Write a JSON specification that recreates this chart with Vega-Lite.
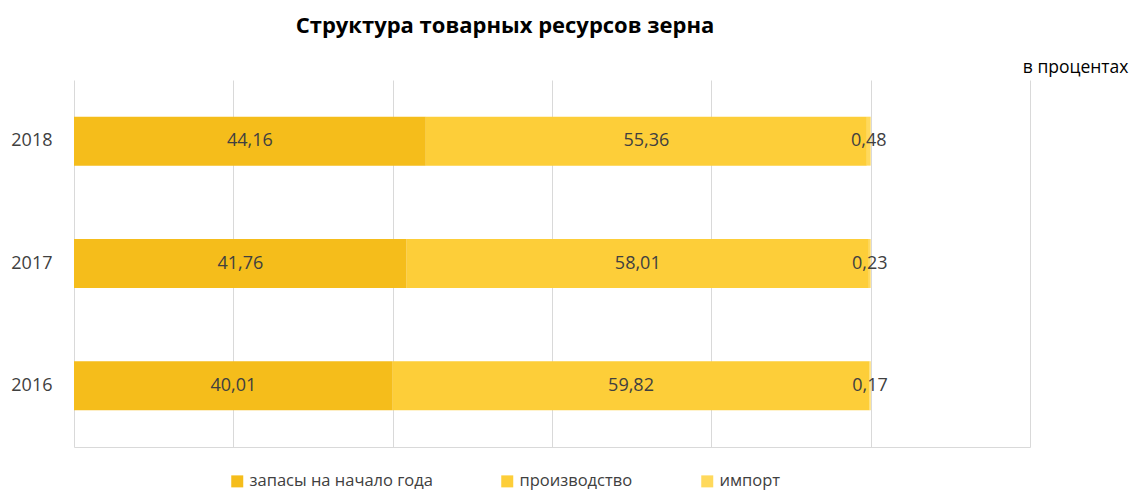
{
  "$schema": "https://vega.github.io/schema/vega-lite/v6.json",
  "width": 956,
  "height": 367,
  "autosize": {"type": "none"},
  "padding": {"left": 74, "top": 80, "right": 100, "bottom": 46},
  "background": "white",
  "config": {
    "view": {"stroke": null},
    "font": "Open Sans",
    "locale": {"number": {"decimal": ",", "thousands": " ", "grouping": [3], "currency": ["", ""]}}
  },
  "title": {
    "text": "Структура товарных ресурсов зерна",
    "font": "Open Sans",
    "fontSize": 22,
    "fontWeight": "bold",
    "color": "#000000",
    "anchor": "middle",
    "frame": "group",
    "dx": -47,
    "offset": 20
  },
  "data": {
    "values": [
      {"year": "2018", "part": "запасы на начало года", "k": 1, "value": 44.16},
      {"year": "2018", "part": "производство", "k": 2, "value": 55.36},
      {"year": "2018", "part": "импорт", "k": 3, "value": 0.48},
      {"year": "2017", "part": "запасы на начало года", "k": 1, "value": 41.76},
      {"year": "2017", "part": "производство", "k": 2, "value": 58.01},
      {"year": "2017", "part": "импорт", "k": 3, "value": 0.23},
      {"year": "2016", "part": "запасы на начало года", "k": 1, "value": 40.01},
      {"year": "2016", "part": "производство", "k": 2, "value": 59.82},
      {"year": "2016", "part": "импорт", "k": 3, "value": 0.17}
    ]
  },
  "transform": [
    {"stack": "value", "groupby": ["year"], "sort": [{"field": "k", "order": "ascending"}], "as": ["x0", "x1"]},
    {"calculate": "(datum.x0 + datum.x1) / 2", "as": "mid"}
  ],
  "encoding": {
    "y": {
      "field": "year",
      "type": "nominal",
      "sort": ["2018", "2017", "2016"],
      "scale": {"paddingInner": 0.6, "paddingOuter": 0.3},
      "axis": {
        "title": null,
        "domain": false,
        "ticks": false,
        "labelPadding": 22,
        "labelFontSize": 18,
        "labelColor": "#404040",
        "labelFont": "Open Sans"
      }
    }
  },
  "layer": [
    {
      "mark": {"type": "bar"},
      "encoding": {
        "x": {
          "field": "x0",
          "type": "quantitative",
          "scale": {"domain": [0, 120], "nice": false, "zero": true},
          "axis": {
            "title": "в процентах",
            "titleFont": "Open Sans",
            "titleFontSize": 17.5,
            "titleFontWeight": "normal",
            "titleColor": "#000000",
            "titleAnchor": "end",
            "titleAlign": "right",
            "titleBaseline": "bottom",
            "titleX": 1054,
            "titleY": -371,
            "values": [0, 20, 40, 60, 80, 100, 120],
            "labels": false,
            "ticks": false,
            "domain": true,
            "domainColor": "#d9d9d9",
            "grid": true,
            "gridColor": "#d9d9d9",
            "gridWidth": 1
          }
        },
        "x2": {"field": "x1"},
        "color": {
          "field": "part",
          "type": "nominal",
          "sort": ["запасы на начало года", "производство", "импорт"],
          "scale": {
            "domain": ["запасы на начало года", "производство", "импорт"],
            "range": ["#F5BD1B", "#FDCE39", "#FFD95C"]
          },
          "legend": {
            "title": null,
            "orient": "none",
            "direction": "horizontal",
            "legendX": 155,
            "legendY": 393,
            "symbolType": "square",
            "symbolSize": 144,
            "symbolStrokeWidth": 0,
            "labelFontSize": 16.5,
            "labelLimit": 0,
            "labelColor": "#404040",
            "labelFont": "Open Sans",
            "columnPadding": 66,
            "symbolOffset": 0,
            "labelOffset": 4
          }
        }
      }
    },
    {
      "mark": {"type": "text", "fontSize": 18, "color": "#404040", "font": "Open Sans", "baseline": "middle", "align": "center"},
      "encoding": {
        "x": {"field": "mid", "type": "quantitative"},
        "text": {"field": "value", "type": "quantitative", "format": ".2f"}
      }
    }
  ]
}
